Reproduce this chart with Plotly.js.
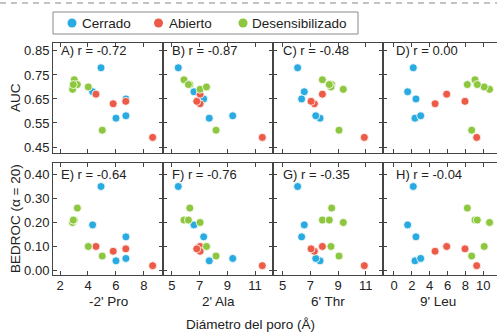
<!DOCTYPE html>
<html><head><meta charset="utf-8">
<script src="https://cdn.plot.ly/plotly-3.0.1.min.js"></script>
<style>html,body{margin:0;padding:0;overflow:hidden;background:#fff}#chart{width:520px;height:334px}</style>
</head><body><div id="chart"></div>
<script>
// ---- data (one entry per structure) ----
const stateNames = ['Cerrado', 'Abierto', 'Desensibilizado'];
const stateColors = ['#29abe2', '#ec5b47', '#8dc63f'];
const residues = ["-2' Pro", "2' Ala", "6' Thr", "9' Leu"];

// Cerrado
const cerradoPro = [4.93, 4.33, 6.00, 6.71, 6.71];
const cerradoAla = [5.47, 6.60, 7.70, 9.39, 7.30];
const cerradoThr = [6.08, 6.56, 7.70, 7.39, 6.37];
const cerradoLeu = [2.16, 1.53, 2.35, 2.99, 2.46];
const cerradoAUC = [0.78, 0.68, 0.57, 0.58, 0.65];
const cerradoBEDROC = [0.35, 0.19, 0.04, 0.05, 0.14];

// Abierto
const abiertoPro = [4.57, 5.80, 6.70, 8.62];
const abiertoAla = [7.04, 7.04, 6.80, 11.52];
const abiertoThr = [7.87, 7.29, 7.05, 10.90];
const abiertoLeu = [5.90, 4.60, 7.95, 9.26];
const abiertoAUC = [0.67, 0.63, 0.64, 0.49];
const abiertoBEDROC = [0.10, 0.08, 0.09, 0.02];

// Desensibilizado
const desensPro = [2.90, 3.02, 3.24, 4.02, 5.02, 2.95];
const desensAla = [7.04, 5.88, 6.30, 7.50, 8.19, 6.20];
const desensThr = [9.38, 7.87, 8.54, 8.49, 9.07, 8.37];
const desensLeu = [10.70, 9.07, 8.21, 10.10, 8.70, 9.33];
const desensAUC = [0.69, 0.73, 0.71, 0.70, 0.52, 0.71];
const desensBEDROC = [0.20, 0.21, 0.26, 0.10, 0.06, 0.21];

const topLetters = ['A', 'B', 'C', 'D'];
const topR = ['-0.72', '-0.87', '-0.48', '0.00'];
const bottomLetters = ['E', 'F', 'G', 'H'];
const bottomR = ['-0.64', '-0.76', '-0.35', '-0.04'];

const aucTicks = [0.45, 0.55, 0.65, 0.75, 0.85];
const bedrocTicks = [0.00, 0.10, 0.20, 0.30, 0.40];
const proTicks = [2, 4, 6, 8];
const alaTicks = [5, 7, 9, 11];
const thrTicks = [5, 7, 9, 11];
const leuTicks = [0, 2, 4, 6, 8, 10];

// ---- assemble ----
const xByState = [
  [cerradoPro, cerradoAla, cerradoThr, cerradoLeu],
  [abiertoPro, abiertoAla, abiertoThr, abiertoLeu],
  [desensPro, desensAla, desensThr, desensLeu]
];
const aucByState = [cerradoAUC, abiertoAUC, desensAUC];
const bedByState = [cerradoBEDROC, abiertoBEDROC, desensBEDROC];
const xTicks = [proTicks, alaTicks, thrTicks, leuTicks];

const W = 520, H = 334;
const px = v => v / W;
const py = v => 1 - v / H;
const FONT = 'Liberation Sans, Arial, Helvetica, sans-serif';
const TXT = '#222';

const panelX = [[53, 163], [163, 273], [273, 383], [383, 505]];
const topY = [43, 153], botY = [163, 275];
const xRanges = [[1.5, 9.36], [4.37, 12.29], [4.30, 12.25], [-1.23, 12.43]];
const textX = [1.95, 4.9, 4.9, 0.0];

const traces = [];
const layout = {
  width: W, height: H,
  margin: {l: 0, r: 0, t: 0, b: 0},
  paper_bgcolor: '#fff', plot_bgcolor: '#fff',
  showlegend: false,
  font: {family: FONT, size: 13, color: TXT},
  annotations: [], shapes: []
};

function axisBase() {
  return {
    showline: true, linecolor: '#444', linewidth: 1, mirror: 'ticks',
    ticks: 'inside', ticklen: 4, tickwidth: 1, tickcolor: '#444',
    showgrid: false, zeroline: false, fixedrange: true,
    tickfont: {family: FONT, size: 13, color: TXT}
  };
}

for (let i = 0; i < 4; i++) {
  const rows = [
    {n: i + 1, yDom: topY, yVals: aucByState, yRange: [0.425, 0.883], ticks: aucTicks, xLabels: false, letter: topLetters[i], r: topR[i], textY: 0.85},
    {n: i + 5, yDom: botY, yVals: bedByState, yRange: [-0.019, 0.448], ticks: bedrocTicks, xLabels: true, letter: bottomLetters[i], r: bottomR[i], textY: 0.40}
  ];
  rows.forEach(row => {
    const n = row.n;
    const xa = Object.assign(axisBase(), {
      domain: [px(panelX[i][0]), px(panelX[i][1])],
      range: xRanges[i], anchor: 'y' + n,
      tickmode: 'array', tickvals: xTicks[i],
      showticklabels: row.xLabels, ticklabelstandoff: -2
    });
    const ya = Object.assign(axisBase(), {
      domain: [py(row.yDom[1]), py(row.yDom[0])],
      range: row.yRange, anchor: 'x' + n,
      tickmode: 'array', tickvals: row.ticks,
      ticktext: row.ticks.map(v => v.toFixed(2)),
      showticklabels: i === 0
    });
    layout['xaxis' + n] = xa;
    layout['yaxis' + n] = ya;
    for (let s = 0; s < 3; s++) {
      traces.push({
        type: 'scatter', mode: 'markers',
        name: stateNames[s],
        x: xByState[s][i], y: row.yVals[s],
        xaxis: 'x' + n, yaxis: 'y' + n,
        marker: {color: stateColors[s], size: 8, line: {color: '#fff', width: 0.8}},
        cliponaxis: false,
        hoverinfo: 'skip'
      });
    }
    layout.annotations.push({
      xref: 'x' + n, yref: 'y' + n, x: textX[i], y: row.textY,
      xanchor: 'left', yanchor: 'middle', showarrow: false,
      text: row.letter + ') r = ' + row.r,
      font: {family: FONT, size: 13, color: TXT}
    });
  });
  // residue axis name under bottom row
  layout.annotations.push({
    xref: 'paper', yref: 'paper',
    x: px((panelX[i][0] + Math.min(panelX[i][1], panelX[i][0] + 110)) / 2), y: py(301),
    xanchor: 'center', yanchor: 'middle', showarrow: false,
    text: residues[i], font: {family: FONT, size: 13.5, color: TXT}
  });
}

// y titles
layout.annotations.push({
  xref: 'paper', yref: 'paper', x: px(15), y: py(98), textangle: -90,
  xanchor: 'center', yanchor: 'middle', showarrow: false,
  text: 'AUC', font: {family: FONT, size: 13.5, color: TXT}
});
layout.annotations.push({
  xref: 'paper', yref: 'paper', x: px(15), y: py(219), textangle: -90,
  xanchor: 'center', yanchor: 'middle', showarrow: false,
  text: 'BEDROC (α = 20)', font: {family: FONT, size: 13.5, color: TXT}
});
// main x title
layout.annotations.push({
  xref: 'paper', yref: 'paper', x: px(250), y: py(324),
  xanchor: 'center', yanchor: 'middle', showarrow: false,
  text: 'Diámetro del poro (Å)', font: {family: FONT, size: 13.5, color: TXT}
});

// top dashed separator
layout.shapes.push({
  type: 'line', xref: 'paper', yref: 'paper', x0: 0, x1: 1, y0: py(3), y1: py(3),
  line: {color: '#b0b0b0', width: 1.5, dash: '6px,5px'}
});
// legend box
layout.shapes.push({
  type: 'rect', xref: 'paper', yref: 'paper',
  x0: px(53), x1: px(358), y0: py(34), y1: py(12),
  line: {color: '#8a8a8a', width: 1}, fillcolor: '#fff'
});
const legMarkX = [72, 158.5, 243];
const legTextX = [80, 167, 250];
for (let s = 0; s < 3; s++) {
  layout.shapes.push({
    type: 'circle', xref: 'paper', yref: 'paper',
    xsizemode: 'pixel', ysizemode: 'pixel',
    xanchor: px(legMarkX[s]), yanchor: py(23),
    x0: -4.5, x1: 4.5, y0: -4.5, y1: 4.5,
    fillcolor: stateColors[s], line: {width: 0}
  });
  layout.annotations.push({
    xref: 'paper', yref: 'paper', x: px(legTextX[s]), y: py(23),
    xanchor: 'left', yanchor: 'middle', showarrow: false,
    text: stateNames[s], font: {family: FONT, size: 13.5, color: TXT}
  });
}

Plotly.newPlot('chart', traces, layout, {displayModeBar: false, staticPlot: true});
</script>
</body></html>
